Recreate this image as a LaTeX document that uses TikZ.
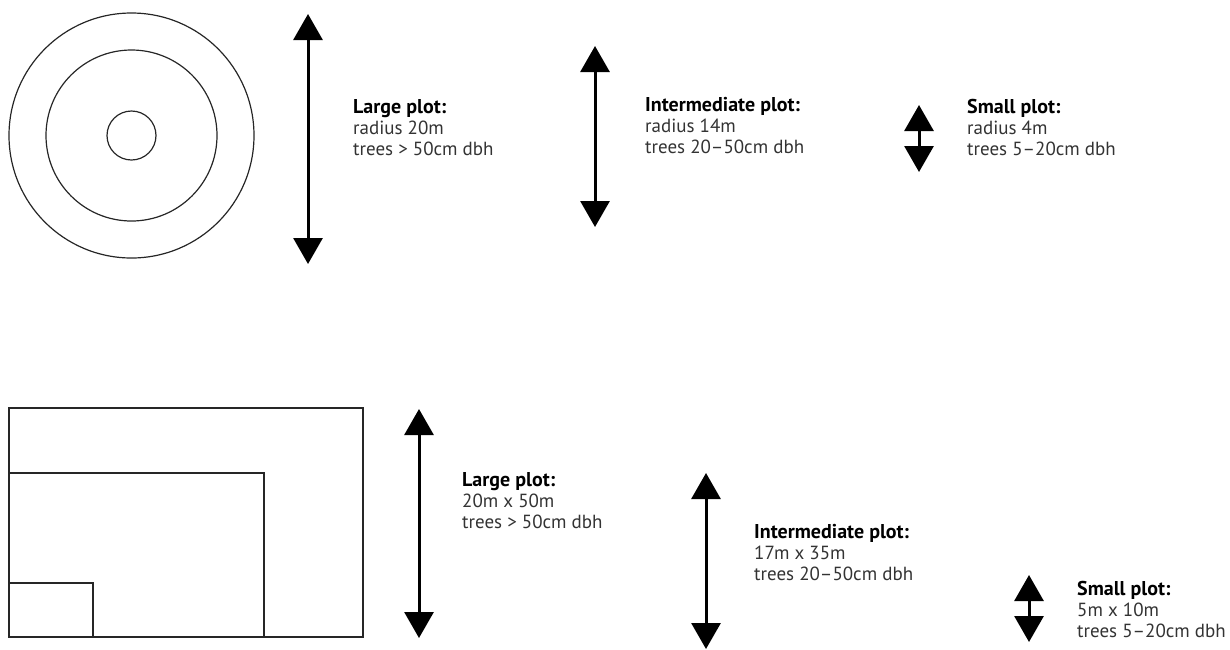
\documentclass[tikz,border=0pt]{standalone}
\usepackage{fontspec}
\setmainfont{PT Sans}
\usetikzlibrary{arrows.meta}

\tikzstyle{outline}=[line width=1.2pt,draw=black!85]
\tikzstyle{span}=[line width=3pt,{Triangle[width=29pt,length=26pt]}-{Triangle[width=29pt,length=26pt]}]
\tikzstyle{caption}=[anchor=base west,inner sep=0pt,align=left,font=\fontsize{19}{21}\selectfont,text=black!80]

% node base is the last line, so labels are placed at their third baseline
\newcommand{\plotlabel}[3]{{\fontsize{20}{21}\selectfont\bfseries\color{black}#1}\\#2\\#3}

\begin{document}
\begin{tikzpicture}[x=1pt,y=-1pt]
        \useasboundingbox (0,0) rectangle (1230,649);

        % circular plots
        \coordinate (cc) at (131.5,135.5);
        \draw[outline] (cc) circle[radius=122.5];
        \draw[outline] (cc) circle[radius=85.5];
        \draw[outline] (cc) circle[radius=24.5];

        % rectangular plots
        \coordinate (ro) at (9,637);
        \draw[outline] (ro) rectangle (363,408);
        \draw[outline] (ro) rectangle (264,473);
        \draw[outline] (ro) rectangle (93,583);

        % radius arrows
        \coordinate (a1t) at (308,14);
        \coordinate (a1b) at (308,264);
        \draw[span] (a1t) -- (a1b);
        \coordinate (a2t) at (595,46);
        \coordinate (a2b) at (595,227);
        \draw[span] (a2t) -- (a2b);
        \coordinate (a3t) at (919,105);
        \coordinate (a3b) at (919,172);
        \draw[span] (a3t) -- (a3b);

        % side arrows
        \coordinate (b1t) at (419,409);
        \coordinate (b1b) at (419,638);
        \draw[span] (b1t) -- (b1b);
        \coordinate (b2t) at (706,473);
        \coordinate (b2b) at (706,649);
        \draw[span] (b2t) -- (b2b);
        \coordinate (b3t) at (1029,575);
        \coordinate (b3b) at (1029,642);
        \draw[span] (b3t) -- (b3b);

        % labels
        \node[caption] (la1) at (353,155) {\plotlabel{Large plot:}{radius 20m}{trees > 50cm dbh}};
        \node[caption] (la2) at (645,153) {\plotlabel{Intermediate plot:}{radius 14m}{trees 20--50cm dbh}};
        \node[caption] (la3) at (967,155) {\plotlabel{Small plot:}{radius 4m}{trees 5--20cm dbh}};
        \node[caption] (lb1) at (462,528) {\plotlabel{Large plot:}{20m x 50m}{trees > 50cm dbh}};
        \node[caption] (lb2) at (754,580) {\plotlabel{Intermediate plot:}{17m x 35m}{trees 20--50cm dbh}};
        \node[caption] (lb3) at (1077,637) {\plotlabel{Small plot:}{5m x 10m}{trees 5--20cm dbh}};
    \end{tikzpicture}
\end{document}
